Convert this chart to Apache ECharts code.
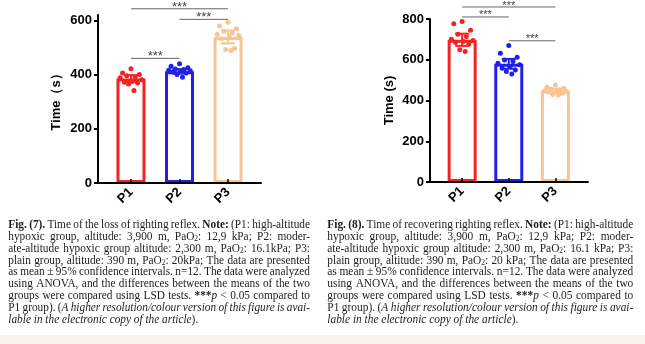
<!DOCTYPE html>
<html><head><meta charset="utf-8">
<script src="https://cdn.jsdelivr.net/npm/echarts@6/dist/echarts.min.js"></script>
<style>html,body{margin:0;padding:0;background:#fff}#c{width:645px;height:344px}</style>
</head><body><div id="c"></div>
<script>
const categories = ['P1', 'P2', 'P3'];
// Fig. (7) loss of righting reflex
const lossMean = [386, 412, 539];
const lossCI = [12, 8, 24];
const lossP1 = [422, 406, 400, 396, 391, 388, 381, 375, 372, 369, 365, 341];
const lossP2 = [440, 431, 425, 421, 419, 416, 414, 412, 410, 406, 400, 390];
const lossP3 = [593, 579, 569, 560, 554, 548, 544, 540, 532, 496, 493, 489];
const lossSig = [[1, 2, 460], [2, 3, 604], [1, 3, 643]];
const lossTicks = [0, 200, 400, 600];
// Fig. (8) recovering righting reflex
const recMean = [698, 580, 448];
const recCI = [30, 24, 10];
const recP1 = [788, 777, 745, 725, 714, 701, 695, 690, 685, 677, 649, 640];
const recP2 = [670, 632, 612, 599, 591, 583, 575, 567, 558, 550, 542, 530];
const recP3 = [476, 465, 460, 455, 452, 448, 445, 443, 440, 435, 430, 427];
const recSig = [[1, 2, 810], [1, 3, 859], [2, 3, 693]];
const recTicks = [0, 200, 400, 600, 800];

const captionLeft = [
  '<b>Fig. (7).</b> Time of the loss of righting reflex. <b>Note:</b> (P1: high-altitude',
  'hypoxic group, altitude: 3,900 m, PaO<sub>2</sub>: 12,9 kPa; P2: moder-',
  'ate-altitude hypoxic group altitude: 2,300 m, PaO<sub>2</sub>: 16.1kPa; P3:',
  'plain group, altitude: 390 m, PaO<sub>2</sub>: 20kPa; The data are presented',
  'as mean ± 95% confidence intervals. n=12. The data were analyzed',
  'using ANOVA, and the differences between the means of the two',
  'groups were compared using LSD tests. <b>***</b><i>p</i> < 0.05 compared to',
  'P1 group). (<i>A higher resolution/colour version of this figure is avai-</i>',
  '<i>lable in the electronic copy of the article</i>).'
];
const captionRight = [
  '<b>Fig. (8).</b> Time of recovering righting reflex. <b>Note:</b> (P1: high-altitude',
  'hypoxic group, altitude: 3,900 m, PaO<sub>2</sub>: 12,9 kPa; P2: moder-',
  'ate-altitude hypoxic group altitude: 2,300 m, PaO<sub>2</sub>: 16.1 kPa; P3:',
  'plain group, altitude: 390 m, PaO<sub>2</sub>: 20 kPa; The data are presented',
  'as mean ± 95% confidence intervals. n=12. The data were analyzed',
  'using ANOVA, and the differences between the means of the two',
  'groups were compared using LSD tests. <b>***</b><i>p</i> < 0.05 compared to',
  'P1 group). (<i>A higher resolution/colour version of this figure is avai-</i>',
  '<i>lable in the electronic copy of the article</i>).'
];

const colors = ['#f42222', '#2020e6', '#f8c592'];
const SANS = '"Liberation Sans", Arial, sans-serif';
const SERIF = '"Liberation Serif", "Times New Roman", serif';
const jitter = [0, -0.7, 0.7, -0.35, 0.35, -0.9, 0.9, 0.1, -0.55, 0.55, -0.2, 0.25];

function makeSeries(idx, means, cis, groups, sig, starSize) {
  const ax = {xAxisIndex: idx, yAxisIndex: idx};
  const out = [];
  out.push(Object.assign({
    type: 'bar', barWidth: 29, z: 2,
    data: means.map((m, i) => ({value: [i + 1, m], itemStyle: {color: '#fff', borderColor: colors[i], borderWidth: 3}})),
    silent: true
  }, ax));
  const pts = [];
  groups.forEach((g, gi) => g.forEach((v, j) => pts.push([gi + 1, v, j, gi])));
  out.push(Object.assign({
    type: 'custom', z: 3, silent: true,
    data: pts,
    renderItem: (params, api) => {
      const p = api.coord([api.value(0), api.value(1)]);
      const gi = api.value(3);
      return {type: 'circle', shape: {cx: p[0] + jitter[api.value(2)] * 12, cy: p[1], r: 2.5}, style: {fill: colors[gi]}};
    }
  }, ax));
  out.push(Object.assign({
    type: 'custom', z: 4, silent: true,
    data: means.map((m, i) => [i + 1, m, cis[i], i]),
    renderItem: (params, api) => {
      const x = api.value(0), m = api.value(1), c = api.value(2);
      const top = api.coord([x, m + c]), bot = api.coord([x, m - c]);
      const col = colors[api.value(3)];
      const st = {stroke: col, lineWidth: 2};
      return {type: 'group', children: [
        {type: 'line', shape: {x1: top[0], y1: top[1], x2: bot[0], y2: bot[1]}, style: st},
        {type: 'line', shape: {x1: top[0] - 7, y1: top[1], x2: top[0] + 7, y2: top[1]}, style: st},
        {type: 'line', shape: {x1: bot[0] - 7, y1: bot[1], x2: bot[0] + 7, y2: bot[1]}, style: st}
      ]};
    }
  }, ax));
  out.push(Object.assign({
    type: 'custom', z: 5, silent: true, clip: false,
    data: sig,
    renderItem: (params, api) => {
      const a = api.coord([api.value(0), api.value(2)]);
      const b = api.coord([api.value(1), api.value(2)]);
      return {type: 'group', children: [
        {type: 'line', shape: {x1: a[0], y1: a[1], x2: b[0], y2: b[1]}, style: {stroke: '#666', lineWidth: 1}},
        {type: 'text', x: (a[0] + b[0]) / 2, y: a[1] - 1.5, style: {text: '***', fontSize: starSize, fontFamily: SANS, fill: '#444', align: 'center', verticalAlign: 'middle'}}
      ]};
    }
  }, ax));
  return out;
}

function xAxis(idx, min, max) {
  return {
    gridIndex: idx, type: 'value', min: min, max: max, z: 6,
    axisLine: {show: true, lineStyle: {color: '#000', width: 2}},
    axisTick: {show: true, inside: true, length: 4, customValues: [1, 2, 3], lineStyle: {color: '#000', width: 1.5}},
    axisLabel: {customValues: [1, 2, 3], formatter: v => categories[Math.round(v) - 1], rotate: 45, margin: 7,
      color: '#000', fontWeight: 'bold', fontSize: 13, fontFamily: SANS},
    splitLine: {show: false}
  };
}
function yAxis(idx, max, ticks, name, gap) {
  return {
    gridIndex: idx, type: 'value', min: 0, max: max, z: 6,
    name: name, nameLocation: 'middle', nameGap: gap, nameRotate: 90,
    nameTextStyle: {color: '#000', fontWeight: 'bold', fontSize: 13, fontFamily: SANS},
    axisLine: {show: true, lineStyle: {color: '#000', width: 2}},
    axisTick: {show: true, length: 4, customValues: ticks, lineStyle: {color: '#000', width: 2}},
    axisLabel: {customValues: ticks, margin: 6, color: '#000', fontWeight: 'bold', fontSize: 13, fontFamily: SANS},
    splitLine: {show: false}
  };
}

// caption layout (justified text)
const FS = 11.5;
const mctx = document.createElement('canvas').getContext('2d');
function runFont(r) { return (r.i ? 'italic ' : '') + (r.b ? 'bold ' : '') + (r.sub ? 7.5 : FS) + 'px ' + SERIF; }
function mw(r) { mctx.font = runFont(r); return mctx.measureText(r.t).width; }
function parseLine(s) {
  const runs = []; let b = false, i = false, sub = false, last = 0, m;
  const re = /<(\/?)(b|i|sub)>/g;
  while ((m = re.exec(s))) {
    if (m.index > last) runs.push({t: s.slice(last, m.index), b, i, sub});
    const on = !m[1];
    if (m[2] === 'b') b = on; else if (m[2] === 'i') i = on; else sub = on;
    last = re.lastIndex;
  }
  if (last < s.length) runs.push({t: s.slice(last), b, i, sub});
  const words = [[]];
  runs.forEach(r => r.t.split(' ').forEach((p, k) => {
    if (k > 0) words.push([]);
    if (p) words[words.length - 1].push(Object.assign({}, r, {t: p}));
  }));
  return words.filter(w => w.length);
}
function caption(lines, x0, x1, y0, dy) {
  const W = x1 - x0;
  const parsed = lines.map(parseLine);
  mctx.font = FS + 'px ' + SERIF;
  const sp = mctx.measureText(' ').width;
  let sx = 1;
  parsed.forEach((words, li) => {
    if (li === parsed.length - 1) return;
    const nat = words.reduce((s, w) => s + w.reduce((a, r) => a + mw(r), 0), 0) + sp * 0.8 * (words.length - 1);
    sx = Math.min(sx, W / nat);
  });
  const els = [];
  parsed.forEach((words, li) => {
    const ww = words.map(w => w.reduce((a, r) => a + mw(r), 0) * sx);
    const tot = ww.reduce((a, b) => a + b, 0);
    const gap = li === parsed.length - 1 ? sp * sx : (W - tot) / (words.length - 1);
    let x = x0;
    const y = y0 + li * dy;
    words.forEach((w, k) => {
      let xr = x;
      w.forEach(r => {
        els.push({type: 'text', x: xr, y: y + (r.sub ? 2.5 : 0), scaleX: sx, silent: true,
          style: {text: r.t, font: runFont(r), fill: '#1c1c1c', align: 'left', verticalAlign: 'middle'}});
        xr += mw(r) * sx;
      });
      x += ww[k] + gap;
    });
  });
  return els;
}

const graphics = [
  {type: 'rect', shape: {x: 0, y: 335, width: 645, height: 9}, style: {fill: '#fbf2ec'}, silent: true, z: -10}
].concat(caption(captionLeft, 8.3, 310, 225, 11.83), caption(captionRight, 327.3, 633.3, 225, 11.83));

const chart = echarts.init(document.getElementById('c'), null, {renderer: 'canvas'});
chart.setOption({
  backgroundColor: '#ffffff',
  animation: false,
  grid: [
    {left: 98, right: 384, top: 15, bottom: 161},
    {left: 430, right: 57, top: 19, bottom: 162}
  ],
  xAxis: [xAxis(0, 0.32, 3.68), xAxis(1, 0.31, 3.7)],
  yAxis: [yAxis(0, 620, lossTicks, 'Time（s）', 35), yAxis(1, 800, recTicks, 'Time (s)', 34)],
  series: [].concat(
    makeSeries(0, lossMean, lossCI, [lossP1, lossP2, lossP3], lossSig, 13),
    makeSeries(1, recMean, recCI, [recP1, recP2, recP3], recSig, 11)
  ),
  graphic: graphics
});
</script></body></html>
